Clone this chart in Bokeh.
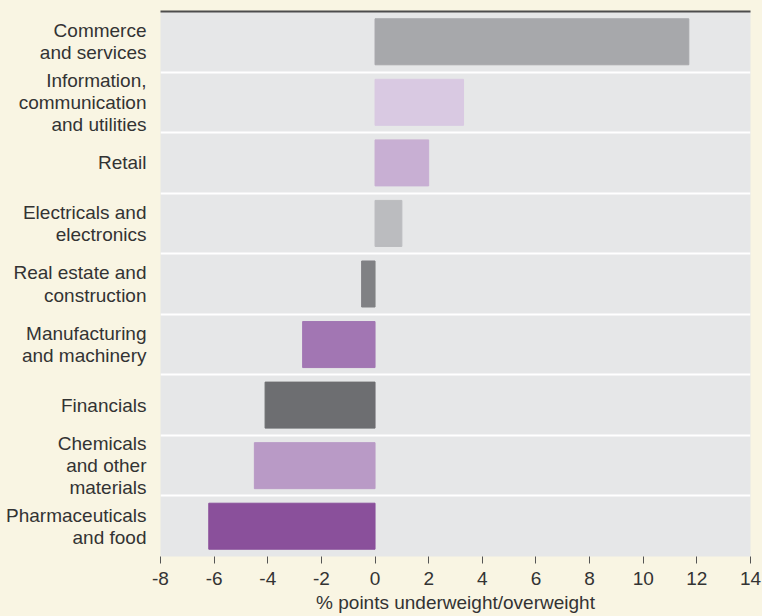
from bokeh.plotting import figure
from bokeh.models import Range1d, FixedTicker, LinearAxis, ColumnDataSource
from bokeh.embed import file_html
from bokeh.resources import INLINE

categories = [
    "Commerce\nand services",
    "Information,\ncommunication\nand utilities",
    "Retail",
    "Electricals and\nelectronics",
    "Real estate and\nconstruction",
    "Manufacturing\nand machinery",
    "Financials",
    "Chemicals\nand other\nmaterials",
    "Pharmaceuticals\nand food",
]
values = [11.7, 3.3, 2.0, 1.0, -0.5, -2.7, -4.1, -4.5, -6.2]
colors = ["#A7A8AB", "#D9C9E2", "#C8AFD3", "#BBBCBF", "#808184",
          "#A276B3", "#6D6E71", "#B99AC6", "#8A509B"]
x_ticks = [-8, -6, -4, -2, 0, 2, 4, 6, 8, 10, 12, 14]

n = len(categories)
ypos = [n - 1 - i for i in range(n)]

BG = "#F9F5E3"
FONT = "Liberation Sans"
TXT = "#333333"
FS = "19px"

src = ColumnDataSource(dict(y=ypos, v=values, c=colors))

p = figure(width=762, height=616, output_backend="svg", toolbar_location=None,
           x_range=Range1d(-8, 14), y_range=Range1d(-0.5, n - 0.5),
           background_fill_color="#E6E7E8", border_fill_color=BG,
           min_border_left=160, min_border_right=12, min_border_top=11,
           min_border_bottom=60)
p.outline_line_color = None

p.hbar(y="y", left=0, right="v", height=0.76, color="c", source=src)

# x axis
xa = p.xaxis[0]
xa.ticker = FixedTicker(ticks=x_ticks)
xa.major_label_overrides = {t: str(t) for t in x_ticks}
xa.axis_line_color = None
xa.major_tick_in = 0
xa.major_tick_out = 7
xa.major_tick_line_color = "#555555"
xa.minor_tick_line_color = None
xa.major_label_text_font = FONT
xa.major_label_text_font_size = FS
xa.major_label_text_color = TXT
xa.major_label_standoff = 8
xa.axis_label = "% points underweight/overweight"
xa.axis_label_text_font = FONT
xa.axis_label_text_font_size = FS
xa.axis_label_text_font_style = "normal"
xa.axis_label_text_color = TXT
xa.axis_label_standoff = 4

# y axis
ya = p.yaxis[0]
ya.ticker = FixedTicker(ticks=ypos)
ya.major_label_overrides = {y: c for y, c in zip(ypos, categories)}
ya.axis_line_color = None
ya.major_tick_line_color = None
ya.major_tick_out = 0
ya.major_tick_in = 0
ya.minor_tick_line_color = None
ya.major_label_text_font = FONT
ya.major_label_text_font_size = FS
ya.major_label_text_color = TXT
ya.major_label_text_line_height = 1.05
ya.major_label_standoff = 14

# grid
p.xgrid.grid_line_color = None
p.ygrid.ticker = FixedTicker(ticks=[i + 0.5 for i in range(n - 1)])
p.ygrid.grid_line_color = "white"
p.ygrid.grid_line_width = 2

# top rule
top = LinearAxis(ticker=FixedTicker(ticks=[]), major_label_text_font_size="0px",
                 axis_line_color="#4D4D4D", axis_line_width=2,
                 major_tick_out=0, major_tick_in=0, major_label_standoff=0,
                 major_tick_line_color=None, minor_tick_line_color=None)
p.add_layout(top, "above")

html = file_html(p, INLINE)
html = html.replace("</head>", "<style>html,body{background:%s;}</style></head>" % BG, 1)
open("out.html", "w").write(html)
